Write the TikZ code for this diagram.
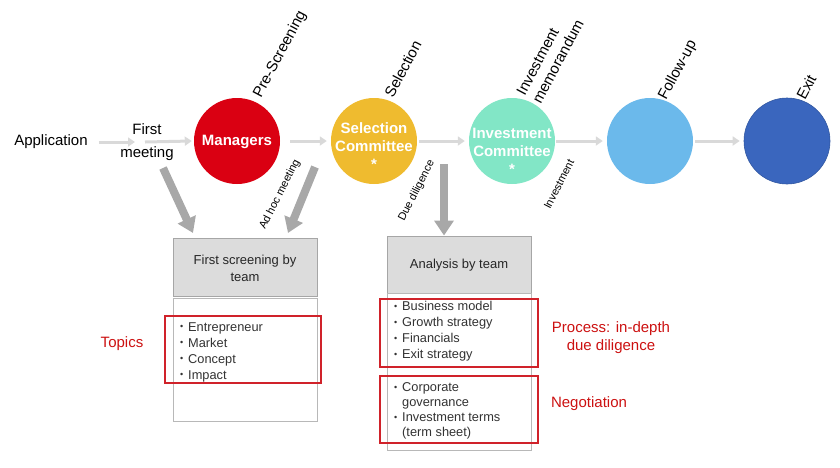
\documentclass[tikz,border=0pt]{standalone}
\usepackage{fontspec}
\setmainfont{Liberation Sans}
\usetikzlibrary{arrows.meta}
\definecolor{mgrred}{HTML}{DA0012}
\definecolor{selyel}{HTML}{EFBB2F}
\definecolor{invgrn}{HTML}{82E6C6}
\definecolor{folblu}{HTML}{6BB9EB}
\definecolor{exiblu}{HTML}{3A66BE}
\definecolor{lightgr}{HTML}{D9D9D9}
\definecolor{midgr}{HTML}{A8A8A8}
\definecolor{boxgr}{HTML}{A6A6A6}
\definecolor{hdrgr}{HTML}{DCDCDC}
\definecolor{boxred}{HTML}{D0222A}
\definecolor{txtred}{HTML}{CC1111}
\definecolor{txtgr}{HTML}{333333}
\newcommand\bl{\makebox[8pt][l]{\raisebox{1.2pt}{\fontsize{9}{9}\selectfont\textbullet}}}
\newcommand\ind{\makebox[8pt]{}}
\begin{document}
\begin{tikzpicture}[x=1pt,y=-1pt,
  lightarrow/.style={draw=lightgr, line width=3, -{Triangle[length=7,width=9]}},
  bigarrow/.style={draw=midgr, line width=8, -{Triangle[length=15,width=19]}},
  circ/.style={circle, minimum size=86, inner sep=0},
  circtext/.style={text=white, font=\fontsize{15}{18}\selectfont\bfseries, align=center, inner sep=0},
  plain/.style={font=\fontsize{15}{17.5}\selectfont, align=center, inner sep=0},
  rotlab/.style={font=\fontsize{15}{18}\selectfont, align=left, inner sep=0, rotate=62},
  smlab/.style={font=\fontsize{11}{13}\selectfont, inner sep=0, rotate=63, anchor=base west},
  hdr/.style={draw=boxgr, fill=hdrgr, line width=1, minimum width=144, inner sep=0},
  body/.style={draw=boxgr!80, fill=white, line width=1, minimum width=144, inner sep=0},
  redbox/.style={draw=boxred, line width=1.2, inner sep=0},
  hdrtext/.style={font=\fontsize{13}{17}\selectfont, align=center, inner sep=0, text=black!85},
  list/.style={font=\fontsize{12.8}{16}\selectfont, align=left, inner sep=0, text=txtgr, anchor=west},
  redtext/.style={font=\fontsize{15}{18}\selectfont, align=center, inner sep=0, text=txtred}
]
\useasboundingbox (0,0) rectangle (840,467);

% circles
\node[circ, fill=mgrred] (mgr) at (237,141) {};
\node[circ, fill=selyel] (sel) at (374,141) {};
\node[circ, fill=invgrn] (inv) at (512,141) {};
\node[circ, fill=folblu] (fol) at (650,141) {};
\node[circ, fill=exiblu, draw=exiblu!85!black, line width=0.6] (exi) at (787,141) {};

\node[circtext] (mgrt) at (237,142) {Managers};
\node[circtext] (selt) at (374,146) {Selection\\Committee\\*};
\node[circtext] (invt) at (512,151) {Investment\\Committee\\*};

% left texts
\node[plain] (app) at (51,142) {Application};
\coordinate (fm) at (140,142);
\node[plain, font=\fontsize{15}{22.5}\selectfont] (fml) at (147,142) {First\\meeting};

% horizontal arrows
\draw[lightarrow] ([xshift=11]app.east) -- ([xshift=-5]fm);
\draw[lightarrow] ([xshift=5]fm) -- ([xshift=-2]mgr.west);
\draw[lightarrow, shorten <=10, shorten >=4] (mgr.east) -- (sel.west);
\draw[lightarrow, shorten <=2, shorten >=4] (sel.east) -- (inv.west);
\draw[lightarrow, shorten <=1, shorten >=4] (inv.east) -- (fol.west);
\draw[lightarrow, shorten <=2, shorten >=4] (fol.east) -- (exi.west);

% rotated labels
\node[rotlab, anchor=base west] (lpre) at (261,99) {Pre-Screening};
\node[rotlab, anchor=base west] (lsel) at (393,99) {Selection};
\node[rotlab, anchor=south west] (linv) at (541,105) {Investment\\memorandum};
\node[rotlab, anchor=base west] (lfol) at (666,101) {Follow-up};
\node[rotlab, anchor=base west] (lexi) at (805,101) {Exit};

\node[smlab] (ladhoc) at (265,230) {Ad hoc meeting};
\node[smlab] (ldue) at (404,222) {Due diligence};
\node[smlab] (linvs) at (550,210) {Investment};

% boxes
\node[hdr, minimum height=58] (h1) at (245,267) {};
\node[body, minimum height=123] (b1) at (245,359.5) {};
\node[hdr, minimum height=57] (h2) at (459,264.5) {};
\node[body, minimum height=157] (b2) at (459,371.5) {};

\node[hdrtext] (h1t) at (245,268) {First screening by\\team};
\node[hdrtext] (h2t) at (459,265) {Analysis by team};

% big arrows
\coordinate (a1s) at (163,168);
\coordinate (a1e) at (193,233);
\coordinate (a2s) at (315,167);
\coordinate (a2e) at (288,233);
\coordinate (a3s) at (444,164);
\draw[bigarrow] (a1s) -- (a1e);
\draw[bigarrow] (a2s) -- (a2e);
\draw[bigarrow] (a3s) -- (a3s |- h2.north);

% red boxes
\node[redbox, minimum width=156, minimum height=67] (r1) at (243,349.5) {};
\node[redbox, minimum width=158, minimum height=68] (r2) at (459,333) {};
\node[redbox, minimum width=158, minimum height=67] (r3) at (459,409.5) {};

% lists
\node[list] (l1) at (180,352) {\bl Entrepreneur\\\bl Market\\\bl Concept\\\bl Impact};
\node[list] (l2) at (394,331.5) {\bl Business model\\\bl Growth strategy\\\bl Financials\\\bl Exit strategy};
\node[list, font=\fontsize{12.8}{15}\selectfont] (l3) at (394,411) {\bl Corporate\\\ind governance\\\bl Investment terms\\\ind (term sheet)};

% red labels
\node[redtext] (topics) at (122,344) {Topics};
\node[redtext] (proc) at (611,338) {Process: in-depth\\due diligence};
\node[redtext] (nego) at (589,404) {Negotiation};
\end{tikzpicture}
\end{document}
